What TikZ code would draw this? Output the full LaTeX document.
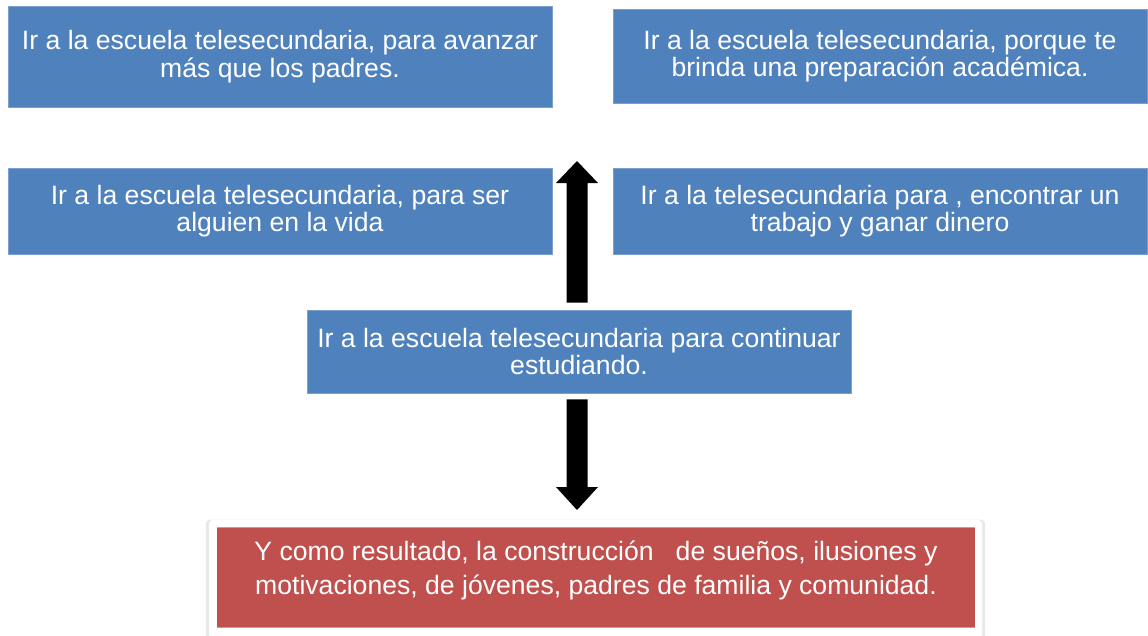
\documentclass[tikz,border=0pt]{standalone}
\usepackage{fontspec}
\setmainfont{Liberation Sans}
\usetikzlibrary{calc,shadows}
\definecolor{boxblue}{HTML}{4F81BD}
\definecolor{boxred}{HTML}{C0504D}
\begin{document}
\begin{tikzpicture}[x=1pt,y=-1pt,
  bluebox/.style={fill=boxblue, draw=boxblue!75!white, line width=0.8pt, text=white,
    align=center, font=\fontsize{26.6}{27.5}\selectfont, inner sep=0pt},
  redtext/.style={text=white, align=center, font=\fontsize{26.6}{34}\selectfont, inner sep=0pt},
  blockarrow/.style={fill=black}]
\useasboundingbox (0,0) rectangle (1148,635);
\node[bluebox, minimum width=544, minimum height=101] (b1) at (280,56.5)
  {Ir a la escuela telesecundaria, para avanzar\\más que los padres.};
\node[bluebox, minimum width=534, minimum height=94] (b2) at (880,56)
  {Ir a la escuela telesecundaria, porque te\\brinda una preparación académica.};
\node[bluebox, minimum width=544, minimum height=86] (b3) at (280,211)
  {Ir a la escuela telesecundaria, para ser\\alguien en la vida};
\node[bluebox, minimum width=534, minimum height=86] (b4) at (880,211)
  {Ir a la telesecundaria para , encontrar un\\trabajo y ganar dinero};
\node[bluebox, minimum width=544, minimum height=83] (b5) at (579,351.5)
  {Ir a la escuela telesecundaria para continuar\\estudiando.};
% result frame and box
\fill[white, rounded corners=4pt, drop shadow={opacity=0.18, shadow xshift=0pt, shadow yshift=0pt, shadow scale=1.008}]
  (209,520) rectangle (982,645);
\fill[boxred] (217,527) rectangle (975,628);
\draw[boxred!60!white, line width=0.8pt] (217,527.4) -- (975,527.4) (217,627.6) -- (975,627.6);
\node[redtext] (res) at (596,570)
  {Y como resultado, la construcción\ \ \ de sueños, ilusiones y\\motivaciones, de jóvenes, padres de familia y comunidad.};
% arrows
\coordinate (upbase) at ($(b5.north)+(-2,-7)$);
\coordinate (uptip) at (577,161);
\coordinate (dnbase) at ($(b5.south)+(-2,6)$);
\coordinate (dntip) at (577,510);
\fill[blockarrow] ($(upbase)+(-10.5,0)$) -- ($(uptip)+(-10.5,22)$) -- ($(uptip)+(-21,22)$) -- (uptip)
  -- ($(uptip)+(21,22)$) -- ($(uptip)+(10.5,22)$) -- ($(upbase)+(10.5,0)$) -- cycle;
\fill[blockarrow] ($(dnbase)+(-10.5,0)$) -- ($(dntip)+(-10.5,-23)$) -- ($(dntip)+(-21,-23)$) -- (dntip)
  -- ($(dntip)+(21,-23)$) -- ($(dntip)+(10.5,-23)$) -- ($(dnbase)+(10.5,0)$) -- cycle;
\end{tikzpicture}
\end{document}
